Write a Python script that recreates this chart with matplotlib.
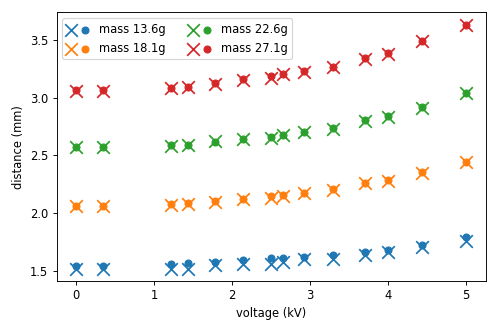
import numpy as np
import matplotlib
matplotlib.use('Agg')
import matplotlib.pyplot as plt
from matplotlib.legend_handler import HandlerTuple

# voltages (kV) shared by every mass
voltage = [0.0, 0.35, 1.22, 1.43, 1.78, 2.14, 2.5, 2.65, 2.92, 3.29, 3.7, 4.0, 4.43, 5.0]

masses = ['13.6g', '18.1g', '22.6g', '27.1g']

# measured distance (mm), drawn as crosses
meas_13 = [1.52, 1.52, 1.52, 1.52, 1.55, 1.56, 1.56, 1.58, 1.60, 1.60, 1.64, 1.66, 1.71, 1.76]
meas_18 = [2.06, 2.06, 2.07, 2.08, 2.10, 2.12, 2.13, 2.15, 2.17, 2.20, 2.26, 2.28, 2.35, 2.44]
meas_22 = [2.57, 2.57, 2.58, 2.59, 2.62, 2.64, 2.65, 2.68, 2.70, 2.73, 2.80, 2.83, 2.91, 3.04]
meas_27 = [3.06, 3.06, 3.08, 3.09, 3.12, 3.15, 3.17, 3.20, 3.22, 3.26, 3.33, 3.38, 3.49, 3.63]

# model distance (mm), drawn as dots
model_13 = [1.545, 1.547, 1.56, 1.566, 1.577, 1.593, 1.608, 1.615, 1.62, 1.64, 1.668, 1.685, 1.725, 1.797]
model_18 = [2.062, 2.064, 2.08, 2.087, 2.106, 2.124, 2.146, 2.155, 2.175, 2.205, 2.259, 2.29, 2.352, 2.446]
model_22 = [2.57, 2.572, 2.587, 2.593, 2.617, 2.642, 2.662, 2.678, 2.705, 2.736, 2.806, 2.836, 2.916, 3.043]
model_27 = [3.065, 3.067, 3.084, 3.093, 3.128, 3.157, 3.182, 3.2, 3.228, 3.265, 3.338, 3.382, 3.49, 3.628]

measured = [meas_13, meas_18, meas_22, meas_27]
modelled = [model_13, model_18, model_22, model_27]

fig, ax = plt.subplots(figsize=(6, 4), dpi=83)

handles = []
for i, m in enumerate(masses):
    c = 'C%d' % i
    h1 = ax.scatter(voltage, measured[i], marker='x', s=120, color=c)
    h2 = ax.scatter(voltage, modelled[i], marker='o', s=36, color=c)
    handles.append((h1, h2))

ax.legend(handles, ['mass ' + m for m in masses], ncol=2, loc='upper left',
          handler_map={tuple: HandlerTuple(ndivide=None)})

ax.set_xlabel('voltage (kV)')
ax.set_ylabel('distance (mm)')

plt.tight_layout()
plt.savefig('out.png')
